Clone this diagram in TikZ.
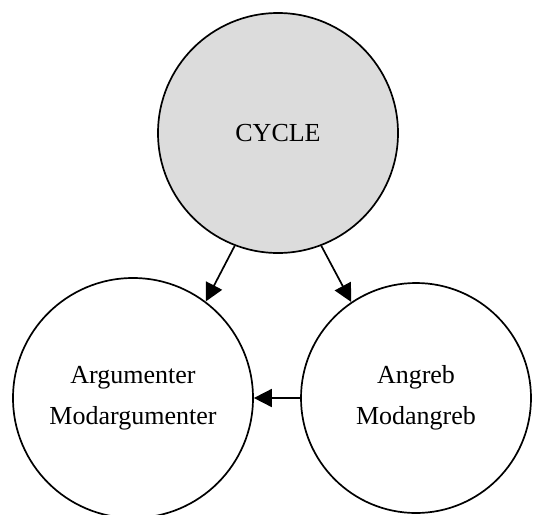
\documentclass[tikz,border=0pt]{standalone}
\usepackage{fontspec}
\setmainfont{Liberation Serif}
\usetikzlibrary{arrows.meta}
\definecolor{nodefill}{HTML}{DCDCDC}
\begin{document}
\begin{tikzpicture}[x=1pt,y=-1pt,
  state/.style={circle, draw=black, line width=1.7pt,
    inner sep=0pt, align=center, font=\fontsize{26}{41}\selectfont},
  link/.style={line width=1.7pt, -{Triangle[length=18pt,width=18pt]}}]
\useasboundingbox (0,0) rectangle (534,514);
\node[state, fill=nodefill, minimum size=240pt] (cycle) at (278,133) {CYCLE};
\node[state, minimum size=240pt] (arg) at (133,398) {Argumenter\\Modargumenter};
\node[state, minimum size=230pt] (att) at (416,398) {Angreb\\Modangreb};
\draw[link] (cycle.249) -- (arg.53);
\draw[link] (cycle.291) -- (att.124);
\draw[link] (att.west) -- (arg.east);
\end{tikzpicture}
\end{document}
